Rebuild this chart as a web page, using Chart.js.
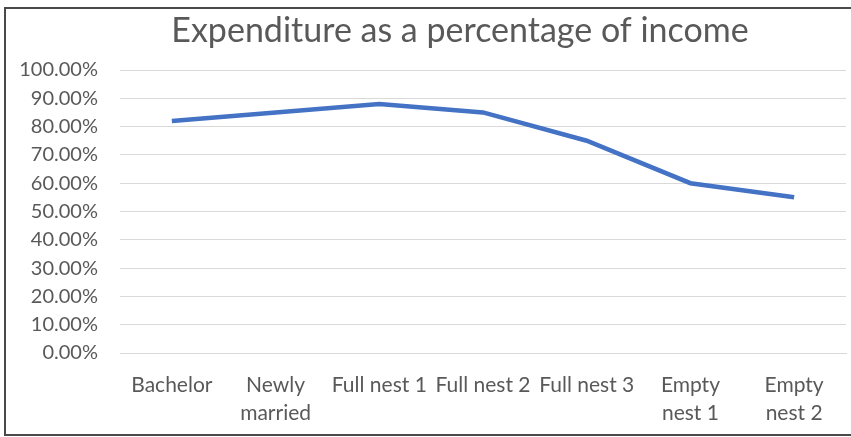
<!DOCTYPE html>
<html>
<head>
<meta charset="utf-8">
<script src="https://cdn.jsdelivr.net/npm/chart.js@4/dist/chart.umd.min.js"></script>
<style>
  html, body { margin: 0; padding: 0; background: #fff; overflow: hidden; }
  #wrap { position: relative; width: 851px; height: 437px; }
  #frame { position: absolute; left: 4px; top: 7px; width: 860px; height: 425px; border: 2px solid #4a4a4a; }
  canvas { position: absolute; left: 0; top: 0; }
</style>
</head>
<body>
<div id="wrap">
  <div id="frame"></div>
  <canvas id="myChart" width="851" height="437"></canvas>
</div>
<script>
const titleText = 'Expenditure as a percentage of income';
const stages = ['Bachelor', ['Newly', 'married'], 'Full nest 1', 'Full nest 2', 'Full nest 3', ['Empty', 'nest 1'], ['Empty', 'nest 2']];
const spending = [0.82, 0.85, 0.88, 0.85, 0.75, 0.60, 0.55];

const grey = '#595959';

// title drawn by hand so it can sit a bit right of the canvas centre
const titlePlugin = {
  id: 'titleText',
  afterDraw(chart) {
    const ctx = chart.ctx;
    ctx.save();
    ctx.font = '34px Lato';
    ctx.fillStyle = grey;
    ctx.textAlign = 'center';
    ctx.textBaseline = 'middle';
    ctx.fillText(titleText, 460, 31);
    ctx.restore();
  }
};

const config = {
  type: 'line',
  data: {
    labels: stages,
    datasets: [{
      data: spending,
      borderColor: '#4472C4',
      borderWidth: 4.5,
      pointRadius: 0,
      tension: 0,
      fill: false
    }]
  },
  options: {
    responsive: false,
    animation: false,
    layout: { padding: { top: 70, right: 5, left: 0, bottom: 0 } },
    plugins: { legend: { display: false }, tooltip: { enabled: false } },
    scales: {
      x: {
        offset: true,
        grid: { display: false, drawTicks: false },
        border: { color: '#d9d9d9', width: 1 },
        ticks: { color: grey, font: { family: 'Lato', size: 21, lineHeight: 1.3 }, padding: 19, maxRotation: 0, autoSkip: false },
        afterFit(s) { s.height = 84; }
      },
      y: {
        min: 0,
        max: 1,
        grid: { color: '#d9d9d9', lineWidth: 1, drawTicks: false },
        border: { display: false },
        ticks: {
          stepSize: 0.1,
          color: grey,
          font: { family: 'Lato', size: 20 },
          padding: 22,
          callback: v => (v * 100).toFixed(2) + '%'
        },
        afterFit(s) { s.width = 120; }
      }
    }
  },
  plugins: [titlePlugin]
};

const myChart = new Chart(document.getElementById('myChart'), config);
</script>
</body>
</html>
